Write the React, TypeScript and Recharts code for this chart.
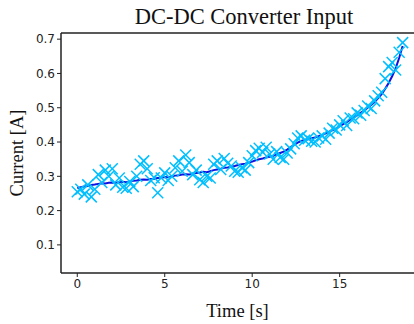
import React from 'react';
import { ComposedChart, Scatter, Line, XAxis, YAxis, ReferenceLine } from 'recharts';

// sample times [s]
const times = [
  0.0, 0.2, 0.4, 0.6, 0.8, 1.0, 1.2, 1.4, 1.6, 1.8,
  2.0, 2.2, 2.4, 2.6, 2.8, 3.0, 3.2, 3.4, 3.6, 3.8,
  4.0, 4.2, 4.4, 4.6, 4.8, 5.0, 5.2, 5.4, 5.6, 5.8,
  6.0, 6.2, 6.4, 6.6, 6.8, 7.0, 7.2, 7.4, 7.6, 7.8,
  8.0, 8.2, 8.4, 8.6, 8.8, 9.0, 9.2, 9.4, 9.6, 9.8,
  10.0, 10.2, 10.4, 10.6, 10.8, 11.0, 11.2, 11.4, 11.6, 11.8,
  12.0, 12.2, 12.4, 12.6, 12.8, 13.0, 13.2, 13.4, 13.6, 13.8,
  14.0, 14.2, 14.4, 14.6, 14.8, 15.0, 15.2, 15.4, 15.6, 15.8,
  16.0, 16.2, 16.4, 16.6, 16.8, 17.0, 17.2, 17.4, 17.6, 17.8,
  18.0, 18.2, 18.4, 18.6,
];

// measured current [A]
const measured = [
  0.255, 0.262, 0.248, 0.275, 0.240, 0.262, 0.305, 0.282, 0.318, 0.300,
  0.322, 0.275, 0.295, 0.268, 0.265, 0.285, 0.270, 0.300, 0.335, 0.345,
  0.322, 0.288, 0.296, 0.252, 0.295, 0.310, 0.288, 0.300, 0.325, 0.345,
  0.315, 0.362, 0.340, 0.305, 0.318, 0.290, 0.282, 0.300, 0.295, 0.335,
  0.345, 0.320, 0.352, 0.338, 0.330, 0.315, 0.312, 0.325, 0.318, 0.340,
  0.360, 0.375, 0.382, 0.370, 0.385, 0.365, 0.350, 0.372, 0.355, 0.350,
  0.368, 0.380, 0.395, 0.412, 0.418, 0.405, 0.410, 0.402, 0.400, 0.412,
  0.418, 0.408, 0.426, 0.440, 0.435, 0.450, 0.462, 0.448, 0.470, 0.468,
  0.485, 0.478, 0.492, 0.505, 0.498, 0.520, 0.535, 0.545, 0.585, 0.620,
  0.632, 0.610, 0.662, 0.690,
];

// smoothed current [A]
const smoothed = [
  0.266, 0.268, 0.270, 0.272, 0.275, 0.276, 0.278, 0.280, 0.279, 0.281,
  0.282, 0.281, 0.283, 0.284, 0.283, 0.285, 0.287, 0.288, 0.290, 0.291,
  0.290, 0.292, 0.293, 0.295, 0.296, 0.298, 0.297, 0.300, 0.302, 0.303,
  0.305, 0.306, 0.305, 0.308, 0.310, 0.311, 0.313, 0.312, 0.315, 0.318,
  0.320, 0.322, 0.325, 0.326, 0.328, 0.330, 0.333, 0.335, 0.337, 0.340,
  0.343, 0.347, 0.350, 0.352, 0.355, 0.357, 0.360, 0.364, 0.368, 0.372,
  0.378, 0.385, 0.392, 0.398, 0.403, 0.406, 0.408, 0.411, 0.413, 0.417,
  0.420, 0.425, 0.430, 0.435, 0.440, 0.446, 0.452, 0.458, 0.465, 0.472,
  0.478, 0.485, 0.492, 0.500, 0.508, 0.517, 0.528, 0.540, 0.555, 0.572,
  0.592, 0.615, 0.645, 0.680,
];

const xTicks = [0, 5, 10, 15];
const yTicks = [0.1, 0.2, 0.3, 0.4, 0.5, 0.6, 0.7];

const serif = '"Liberation Serif", "DejaVu Serif", serif';
const sans = '"DejaVu Sans", sans-serif';

const XMarker = (props: any) => {
  const { cx, cy } = props;
  if (cx == null || cy == null) return null;
  const r = 5.5;
  return (
    <g stroke="#00bfff" strokeWidth={1.5}>
      <line x1={cx - r} y1={cy - r} x2={cx + r} y2={cy + r} />
      <line x1={cx - r} y1={cy + r} x2={cx + r} y2={cy - r} />
    </g>
  );
};

export default function App() {
  const scatterData = times.map((t, i) => ({ t, current: measured[i] }));
  const lineData = times.map((t, i) => ({ t, fit: smoothed[i] }));

  return (
    <div style={{ position: 'absolute', left: 0, top: 0, width: 414, height: 324, background: '#fff' }}>
      <ComposedChart width={414} height={324} margin={{ top: 33, right: 0, bottom: 21, left: 11 }}>
        <text x={244} y={24} textAnchor="middle" fontFamily={serif} fontSize={22.5} fill="#111">
          DC-DC Converter Input
        </text>
        <XAxis
          type="number"
          dataKey="t"
          domain={[-0.93, 19.25]}
          ticks={xTicks}
          allowDataOverflow
          height={30}
          tickSize={4}
          axisLine={{ stroke: '#222', strokeWidth: 1.5 }}
          tickLine={{ stroke: '#222' }}
          tick={{ fontFamily: sans, fontSize: 12, fill: '#222' }}
          label={{ value: 'Time [s]', position: 'insideBottom', offset: -14, fontFamily: serif, fontSize: 18.5, fill: '#111' }}
        />
        <YAxis
          type="number"
          domain={[0.018, 0.718]}
          ticks={yTicks}
          allowDataOverflow
          width={50}
          tickSize={4}
          tickFormatter={(v: number) => v.toFixed(1)}
          axisLine={{ stroke: '#222', strokeWidth: 1.5 }}
          tickLine={{ stroke: '#222' }}
          tick={{ fontFamily: sans, fontSize: 12, fill: '#222' }}
          label={{ value: 'Current [A]', angle: -90, position: 'insideLeft', offset: 5, fontFamily: serif, fontSize: 18.5, fill: '#111', style: { textAnchor: 'middle' } }}
        />
        <ReferenceLine y={0.718} stroke="#222" strokeWidth={1.5} ifOverflow="visible" />
        <Scatter data={scatterData} dataKey="current" shape={XMarker} isAnimationActive={false} />
        <Line data={lineData} dataKey="fit" stroke="#1010e0" strokeWidth={2} dot={false} isAnimationActive={false} />
      </ComposedChart>
    </div>
  );
}
